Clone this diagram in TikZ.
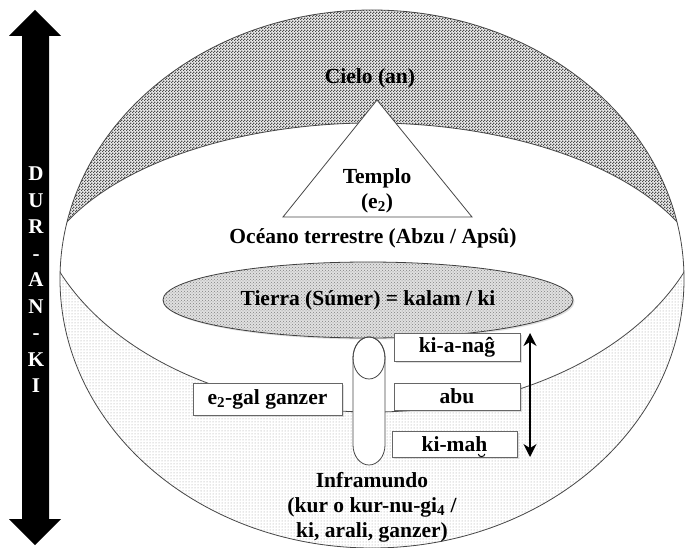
\documentclass[tikz,border=0pt]{standalone}
\usepackage{fontspec}
\setmainfont{Liberation Serif}
\usetikzlibrary{patterns,shapes.geometric,arrows.meta,shadows}
\pgfdeclarepatternformonly{checker}{\pgfqpoint{0pt}{0pt}}{\pgfqpoint{3pt}{3pt}}{\pgfqpoint{3pt}{3pt}}{%
  \pgfpathrectangle{\pgfqpoint{0pt}{0pt}}{\pgfqpoint{1.5pt}{1.5pt}}%
  \pgfpathrectangle{\pgfqpoint{1.5pt}{1.5pt}}{\pgfqpoint{1.5pt}{1.5pt}}%
  \pgfusepath{fill}}
\begin{document}
\begin{tikzpicture}[x=1pt,y=-1pt,
  lbl/.style={font=\bfseries\fontsize{21.5}{25}\selectfont, align=center, inner sep=0pt},
  outl/.style={draw=black!72, line width=0.8pt},
  boxnode/.style={lbl, draw=black!60, line width=0.8pt, fill=white,
     drop shadow={shadow xshift=1.5pt, shadow yshift=-1.5pt, opacity=0.25}}]
\useasboundingbox (0,0) rectangle (685,548);

% layered bands inside the big ellipse
\begin{scope}
  \clip (372,279) ellipse [x radius=312pt, y radius=269pt];
  \fill[white] (0,0) rectangle (685,548);
  \fill[black!8, even odd rule]
     (0,0) rectangle (685,548) (372,300) ellipse [x radius=340pt, y radius=177pt];
  \fill[pattern=checker, pattern color=black!70, even odd rule]
     (0,0) rectangle (685,548) (372,300) ellipse [x radius=340pt, y radius=177pt];
  \fill[white, even odd rule]
     (0,0) rectangle (685,548) (372,180) ellipse [x radius=340pt, y radius=232pt];
  \fill[pattern=dots, pattern color=black!40, even odd rule]
     (0,0) rectangle (685,548) (372,180) ellipse [x radius=340pt, y radius=232pt];
  \draw[outl] (372,300) ++(156.6:340pt and 177pt)
     arc[start angle=156.6, end angle=23.4, x radius=340pt, y radius=177pt];
  \draw[outl] (372,180) ++(203.4:340pt and 232pt)
     arc[start angle=203.4, end angle=336.6, x radius=340pt, y radius=232pt];
\end{scope}
\draw[outl] (372,279) ellipse [x radius=312pt, y radius=269pt];

% temple triangle
\coordinate (tA) at (377,100);
\coordinate (tL) at (283,217);
\coordinate (tR) at (472,217);
\draw[outl, fill=white] (tA) -- (tL) -- (tR) -- cycle;

\node[lbl] (cielo) at (370,78) {Cielo (an)};
\node[lbl] (templo) at (377,191) {Templo\\(e\textsubscript{2})};
\node[lbl] (oceano) at (373,238) {Océano terrestre (Abzu / Apsû)};

% earth
\node[lbl, ellipse, draw=black!75, line width=0.8pt,
      drop shadow={shadow xshift=1.5pt, shadow yshift=-1.5pt, opacity=0.25},
      preaction={fill=black!12}, pattern=crosshatch dots, pattern color=black!50,
      minimum width=410pt, minimum height=76pt] (tierra) at (368,300)
      {Tierra (Súmer) = kalam / ki};

% column
\draw[outl, fill=white] (353,358) -- (353,445)
   arc[start angle=180, end angle=360, x radius=16pt, y radius=20pt]
   -- (385,358) arc[start angle=0, end angle=180, x radius=16pt, y radius=21pt] -- cycle;
\draw[outl] (369,358) ellipse [x radius=16pt, y radius=21pt];

% boxes
\node[boxnode, minimum width=126pt, minimum height=28pt] (kianag) at (457,347) {ki-a-naĝ};
\node[boxnode, minimum width=126pt, minimum height=27pt] (abu) at (457,396.5) {abu};
\node[boxnode, minimum width=125pt, minimum height=26pt] (kimah) at (454.5,444) {ki-mah};
\node[boxnode, minimum width=149pt, minimum height=32pt] (egal) at (267.5,399) {e\textsubscript{2}-gal ganzer};
% breve below the h of ki-mah
\coordinate (brv) at (478.4,454);
\draw[line width=1pt] (brv) arc[start angle=180, end angle=360, x radius=3.2pt, y radius=2.6pt];

% double arrow
\coordinate (aT) at (530,333);
\coordinate (aB) at (530,457);
\draw[line width=2pt, {Stealth[length=13pt,width=13pt]}-{Stealth[length=13pt,width=13pt]}] (aT) -- (aB);

\node[lbl] (infra) at (372,507) {Inframundo\\(kur o kur-nu-gi\textsubscript{4} /\\ki, arali, ganzer)};

% big black arrow
\fill[black] (35,10) -- (61,36) -- (49,36) -- (49,519) -- (61,519) -- (35,545)
   -- (9,519) -- (22,519) -- (22,36) -- (9,36) -- cycle;
\node[font=\bfseries\fontsize{21}{26.5}\selectfont, text=white, align=center, inner sep=0pt]
   (durank) at (36,280) {D\\U\\R\\-\\A\\N\\-\\K\\I};
\end{tikzpicture}
\end{document}
